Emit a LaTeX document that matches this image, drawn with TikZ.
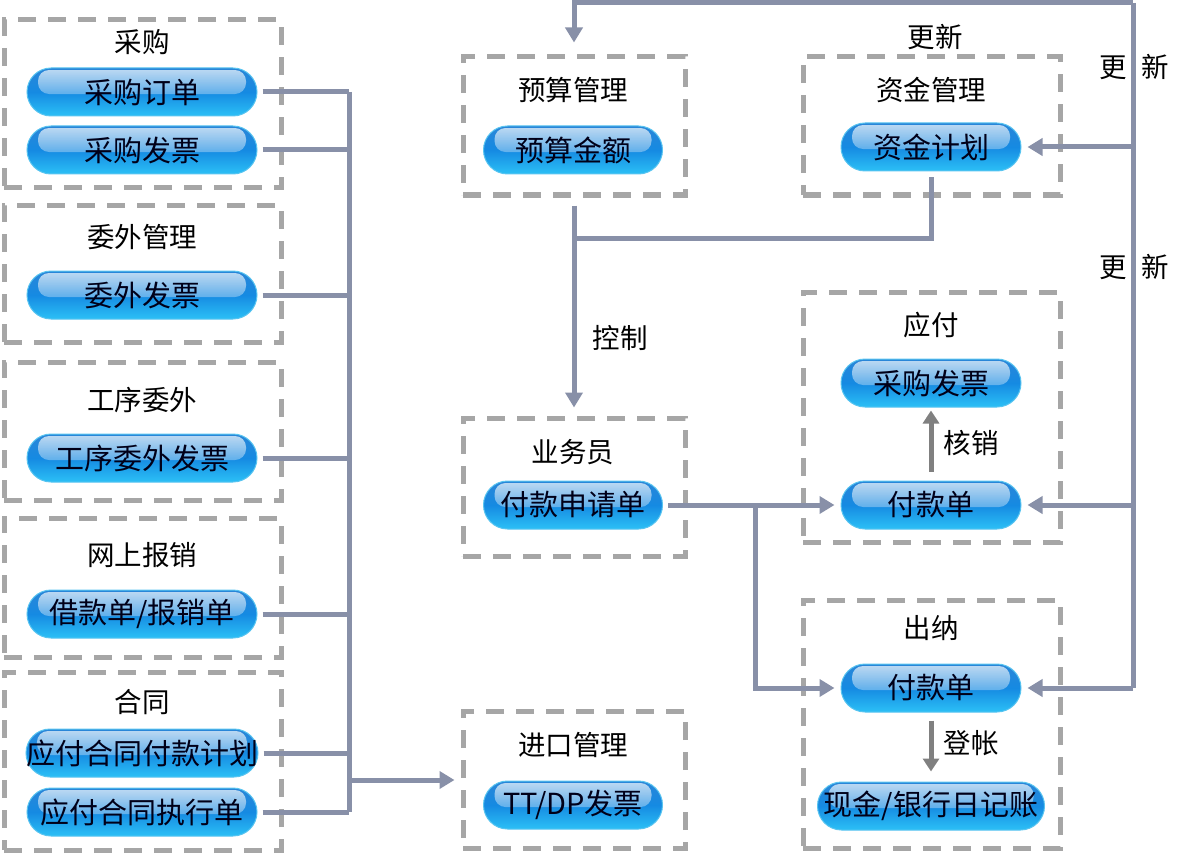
\documentclass[tikz,border=0pt]{standalone}
\usepackage{fontspec}
\setmainfont{Noto Sans CJK SC}
\usetikzlibrary{arrows.meta,fadings}
\definecolor{connc}{HTML}{8890A8}
\definecolor{boxc}{HTML}{A6A6A6}
\definecolor{btntop}{HTML}{2A86D8}
\definecolor{btnmid}{HTML}{158AE2}
\definecolor{btnbot}{HTML}{2CC0F6}
\definecolor{btnedge}{HTML}{58C4F0}
\definecolor{garrc}{HTML}{808080}
\begin{document}
\begin{tikzpicture}[x=1pt,y=-1pt,
  grp/.style={draw=boxc, line width=5pt, dash pattern=on 18pt off 12pt, inner sep=0pt},
  tit/.style={font=\fontsize{27.5}{30}\selectfont, inner sep=0pt},
  btn/.style={rounded corners=24pt, minimum height=48pt, inner sep=0pt,
    draw=btnedge, line width=1pt, top color=btntop, bottom color=btnbot, middle color=btnmid,
    font=\fontsize{29}{30}\selectfont, text=black!90!blue,
    path picture={\fill[white, fill opacity=0.7, path fading=south, rounded corners=11pt]
      ([xshift=11pt,yshift=-2pt]path picture bounding box.north west) rectangle
      ([xshift=-11pt,yshift=-26pt]path picture bounding box.north east);}},
  conn/.style={draw=connc, line width=5pt},
  arr/.style={conn, -{Triangle[length=15pt,width=17pt]}},
  garr/.style={draw=garrc, line width=5pt, -{Triangle[length=13pt,width=16pt]}}
]
\useasboundingbox (0,0) rectangle (1185,853);

% ---- group boxes
\node[grp, minimum width=277pt, minimum height=168pt] (gA) at (142.5,104) {};
\node[grp, minimum width=277pt, minimum height=137pt] (gB) at (142.5,273.5) {};
\node[grp, minimum width=277pt, minimum height=138pt] (gC) at (142.5,431) {};
\node[grp, minimum width=277pt, minimum height=139pt] (gD) at (142.5,587.5) {};
\node[grp, minimum width=277pt, minimum height=178pt] (gE) at (142.5,761) {};
\node[grp, minimum width=222pt, minimum height=138pt] (gBud) at (574,126) {};
\node[grp, minimum width=222pt, minimum height=138pt] (gSales) at (574,487) {};
\node[grp, minimum width=222pt, minimum height=137pt] (gImp) at (574,779.5) {};
\node[grp, minimum width=257pt, minimum height=138pt] (gFund) at (931.5,126) {};
\node[grp, minimum width=257pt, minimum height=250pt] (gAP) at (931.5,417) {};
\node[grp, minimum width=257pt, minimum height=248pt] (gCash) at (931.5,724) {};

% ---- titles
\node[tit] (tA) at (142,42) {采购};
\node[tit] (tB) at (142,237) {委外管理};
\node[tit] (tC) at (142,400) {工序委外};
\node[tit] (tD) at (142,555) {网上报销};
\node[tit] (tE) at (142,702) {合同};
\node[tit] (tBud) at (573,90) {预算管理};
\node[tit] (tSales) at (573,452) {业务员};
\node[tit] (tImp) at (573,745) {进口管理};
\node[tit] (tFund) at (931,90) {资金管理};
\node[tit] (tAP) at (931,325) {应付};
\node[tit] (tCash) at (931,628) {出纳};

% ---- buttons
\node[btn, minimum width=230pt] (bA1) at (142,92) {采购订单};
\node[btn, minimum width=230pt] (bA2) at (142,150) {采购发票};
\node[btn, minimum width=230pt] (bB) at (142,295) {委外发票};
\node[btn, minimum width=230pt] (bC) at (142,458) {工序委外发票};
\node[btn, minimum width=230pt] (bD) at (142,614) {借款单/报销单};
\node[btn, minimum width=230pt] (bE1) at (142,753) {应付合同付款计划};
\node[btn, minimum width=230pt] (bE2) at (142,812) {应付合同执行单};
\node[btn, minimum width=179pt] (bud) at (573,150) {预算金额};
\node[btn, minimum width=179pt] (req) at (573,505) {付款申请单};
\node[btn, minimum width=179pt] (imp) at (573,805) {TT/DP发票};
\node[btn, minimum width=180pt] (fplan) at (931,147) {资金计划};
\node[btn, minimum width=180pt] (ap1) at (931,383) {采购发票};
\node[btn, minimum width=180pt] (ap2) at (931,505) {付款单};
\node[btn, minimum width=180pt] (cash1) at (931,688) {付款单};
\node[btn, minimum width=227pt] (cash2) at (931,806) {现金/银行日记账};

% ---- left bus
\coordinate (bus) at (349,92);
\foreach \b in {bA1,bA2,bB,bC,bD,bE1,bE2}
  \draw[conn] ([xshift=5pt]\b.east) -- (bus |- \b);
\draw[conn] (bus |- bA1) -- (bus |- bE2);
\coordinate (bI) at (349,780);
\coordinate (impL) at ([xshift=-6pt]gImp.west);
\draw[arr] (bI) -- (impL |- bI);

% ---- right bus (updates)
\coordinate (R0) at (1133,3);
\coordinate (budTip) at ([yshift=12pt]gBud.north);
\draw[conn] (R0) -- (R0 |- cash1);
\draw[arr] (R0) -- (R0 -| gBud.north) -- (budTip);
\draw[arr] (R0 |- fplan) -- ([xshift=6pt]fplan.east);
\draw[arr] (R0 |- ap2) -- ([xshift=6pt]ap2.east);
\draw[arr] (R0 |- cash1) -- ([xshift=6pt]cash1.east);

% ---- control
\coordinate (budB) at ([yshift=-8pt]gBud.south);
\coordinate (salesT) at ([yshift=8pt]gSales.north);
\draw[arr] (budB) -- (salesT);
\coordinate (J) at (573,238);
\draw[conn] ([yshift=-6pt]fplan.south) |- (J);

% ---- payment request
\draw[arr] ([xshift=5pt]req.east) -- ([xshift=-6pt]ap2.west);
\coordinate (Br) at (755,505);
\draw[arr] (Br) |- ([xshift=-6pt]cash1.west);

% ---- inner arrows
\draw[garr] ([yshift=9pt]ap2.north) -- ([yshift=-3pt]ap1.south);
\draw[garr] ([yshift=-8pt]cash1.south) -- ([yshift=10pt]cash2.north);

% ---- labels
\node[tit] (l1) at (935,37) {更新};
\node[tit] (l2) at (1134,67) {更\hspace{15pt}新};
\node[tit] (l3) at (1134,267) {更\hspace{15pt}新};
\node[tit] (l4) at (620,338) {控制};
\node[tit] (l5) at (971,443) {核销};
\node[tit] (l6) at (971,743) {登帐};
\end{tikzpicture}
\end{document}
